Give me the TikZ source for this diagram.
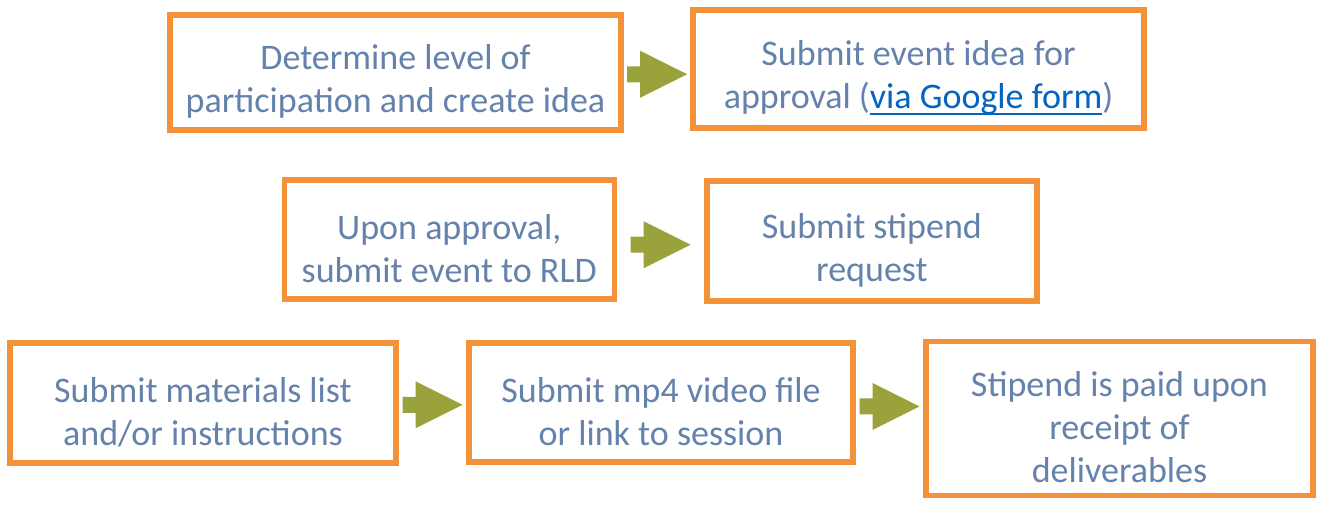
\documentclass[tikz,border=0pt]{standalone}
\usepackage{fontspec}
\setmainfont{Carlito}
\usetikzlibrary{calc}

\definecolor{boxorange}{RGB}{244,146,58}
\definecolor{textblue}{RGB}{100,130,171}
\definecolor{linkblue}{RGB}{5,99,193}
\definecolor{arrowolive}{RGB}{154,162,60}

\tikzset{
  stepbox/.style={draw=boxorange, line width=5.5pt, fill=white, text=textblue,
    align=center, inner sep=0pt, font=\fontsize{36}{43}\selectfont},
}

% tall first line, pushes the text a bit below the middle
\newcommand{\stepstrut}{\rule{0pt}{43pt}}

% underlined link text
\newlength{\linkwd}
\newcommand{\linktext}[1]{\settowidth{\linkwd}{#1}%
  \textcolor{linkblue}{#1\llap{\rule[-6.5pt]{\linkwd}{2pt}}}}

% block arrow between two boxes
\newcommand{\flowarrow}[3][0]{%
  \path (#2.east) -- coordinate[midway] (mid) (#3.west);
  \fill[arrowolive] ($(mid)+(-30,-8+#1)$) -- ++(13,0) -- ++(0,-15.5)
    -- ($(mid)+(30,#1)$) -- ($(mid)+(-17,23.5+#1)$) -- ++(0,-15.5)
    -- ++(-13,0) -- cycle;
}

\begin{document}
\begin{tikzpicture}[x=1pt,y=-1pt]
\useasboundingbox (0,0) rectangle (1320,504);

% row 1
\node[stepbox, minimum width=451pt, minimum height=115pt] (idea) at (395.5,72.5)
  {\stepstrut Determine level of\\participation and create idea};
\node[stepbox, minimum width=451pt, minimum height=118pt] (approval) at (918.5,69)
  {\stepstrut Submit event idea for\\approval (\linktext{via Google form})};

% row 2
\node[stepbox, minimum width=330pt, minimum height=119pt] (rld) at (449.3,239.5)
  {\stepstrut Upon approval,\\submit event to RLD};
\node[stepbox, minimum width=330pt, minimum height=120pt] (stipend) at (871.9,240.9)
  {\stepstrut Submit stipend\\request};

% row 3
\node[stepbox, minimum width=386pt, minimum height=120pt] (materials) at (203,403)
  {\stepstrut Submit materials list\\and/or instructions};
\node[stepbox, minimum width=384pt, minimum height=119pt] (video) at (661,402.5)
  {\stepstrut Submit mp4 video file\\or link to session};
\node[stepbox, minimum width=387pt, minimum height=154pt] (paid) at (1119.5,418.3)
  {\stepstrut Stipend is paid upon\\receipt of\\deliverables};

\flowarrow[3.5]{idea}{approval}
\flowarrow[4.5]{rld}{stipend}
\flowarrow[2]{materials}{video}
\flowarrow[-4]{video}{paid}
\end{tikzpicture}
\end{document}
